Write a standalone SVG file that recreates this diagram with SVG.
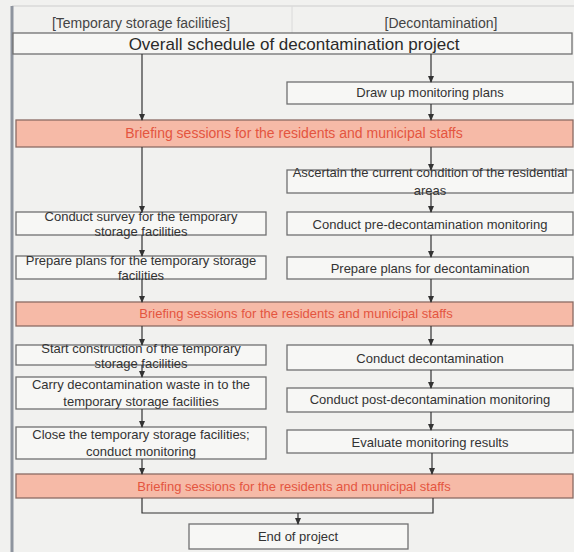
<svg xmlns="http://www.w3.org/2000/svg" width="574" height="552" viewBox="0 0 574 552">
  <defs>
    <marker id="arrow" markerWidth="7" markerHeight="6" refX="6" refY="3" orient="auto" markerUnits="userSpaceOnUse">
      <path d="M0,0 L7,3 L0,6 Z" fill="#333"/>
    </marker>
  </defs>
  <style>
    text { font-family: "Liberation Sans", Arial, sans-serif; font-size: 13px; fill: #333; text-anchor: middle; }
    .box { fill: #f7f7f5; stroke: #707070; stroke-width: 1.3; }
    .brief { fill: #f6baa7; stroke: #8c6c64; stroke-width: 1.3; }
    .brief-text { fill: #e4553f; }
    .head { font-size: 14px; fill: #444; }
    .title { font-size: 17px; fill: #2a2a2a; }
    .conn { stroke: #333; stroke-width: 1.2; fill: none; }
  </style>

  <!-- page background and frame -->
  <rect x="0" y="0" width="574" height="552" fill="#f1f1ef"/>
  <line x1="12" y1="6" x2="574" y2="6" stroke="#cdcdcd" stroke-width="1"/>
  <line x1="292" y1="6" x2="292" y2="33" stroke="#dadada" stroke-width="1"/>
  <line x1="12" y1="6" x2="12" y2="552" stroke="#8e949e" stroke-width="3"/>

  <!-- column headings -->
  <text class="head" x="141" y="28">[Temporary storage facilities]</text>
  <text class="head" x="441" y="28">[Decontamination]</text>

  <g id="overall">
    <rect class="box" x="13" y="33" width="559" height="21"/>
    <text class="title" x="294" y="50">Overall schedule of decontamination project</text>
  </g>

  <g id="draw-up">
    <rect class="box" x="287" y="82" width="286" height="22"/>
    <text x="430" y="97">Draw up monitoring plans</text>
  </g>

  <g id="briefing-1">
    <rect class="brief" x="16" y="120" width="557" height="27"/>
    <text class="brief-text" x="294" y="138" style="font-size:14px">Briefing sessions for the residents and municipal staffs</text>
  </g>

  <g id="ascertain">
    <rect class="box" x="287" y="170" width="286" height="23"/>
    <text x="430" y="177">Ascertain the current condition of the residential</text>
    <text x="430" y="195">areas</text>
  </g>

  <g id="survey">
    <rect class="box" x="16" y="212" width="250" height="23"/>
    <text x="141" y="221">Conduct survey for the temporary</text>
    <text x="141" y="236">storage facilities</text>
  </g>

  <g id="pre-monitoring">
    <rect class="box" x="287" y="212" width="286" height="23"/>
    <text x="430" y="229">Conduct pre-decontamination monitoring</text>
  </g>

  <g id="plans-storage">
    <rect class="box" x="16" y="256" width="250" height="23"/>
    <text x="141" y="265">Prepare plans for the temporary storage</text>
    <text x="141" y="280">facilities</text>
  </g>

  <g id="plans-decon">
    <rect class="box" x="287" y="257" width="286" height="22"/>
    <text x="430" y="273">Prepare plans for decontamination</text>
  </g>

  <g id="briefing-2">
    <rect class="brief" x="16" y="302" width="557" height="24"/>
    <text class="brief-text" x="296" y="318">Briefing sessions for the residents and municipal staffs</text>
  </g>

  <g id="construction">
    <rect class="box" x="16" y="345" width="250" height="20"/>
    <text x="141" y="353">Start construction of the temporary</text>
    <text x="141" y="368">storage facilities</text>
  </g>

  <g id="decontamination">
    <rect class="box" x="287" y="345" width="286" height="25"/>
    <text x="430" y="363">Conduct decontamination</text>
  </g>

  <g id="carry-waste">
    <rect class="box" x="16" y="377" width="250" height="32"/>
    <text x="141" y="389">Carry decontamination waste in to the</text>
    <text x="141" y="406">temporary storage facilities</text>
  </g>

  <g id="post-monitoring">
    <rect class="box" x="287" y="388" width="286" height="24"/>
    <text x="430" y="404">Conduct post-decontamination monitoring</text>
  </g>

  <g id="close-storage">
    <rect class="box" x="16" y="427" width="250" height="32"/>
    <text x="141" y="439">Close the temporary storage facilities;</text>
    <text x="141" y="456">conduct monitoring</text>
  </g>

  <g id="evaluate">
    <rect class="box" x="287" y="430" width="286" height="23"/>
    <text x="430" y="447">Evaluate monitoring results</text>
  </g>

  <g id="briefing-3">
    <rect class="brief" x="16" y="474" width="557" height="24"/>
    <text class="brief-text" x="294" y="491">Briefing sessions for the residents and municipal staffs</text>
  </g>

  <g id="end">
    <rect class="box" x="189" y="524" width="219" height="25"/>
    <text x="298" y="541">End of project</text>
  </g>

  <g id="connectors">
    <line class="conn" x1="142" y1="54" x2="142" y2="120" marker-end="url(#arrow)"/>
    <line class="conn" x1="431" y1="54" x2="431" y2="82" marker-end="url(#arrow)"/>
    <line class="conn" x1="431" y1="104" x2="431" y2="120" marker-end="url(#arrow)"/>
    <line class="conn" x1="431" y1="147" x2="431" y2="170" marker-end="url(#arrow)"/>
    <line class="conn" x1="142" y1="147" x2="142" y2="212" marker-end="url(#arrow)"/>
    <line class="conn" x1="431" y1="193" x2="431" y2="212" marker-end="url(#arrow)"/>
    <line class="conn" x1="142" y1="235" x2="142" y2="256" marker-end="url(#arrow)"/>
    <line class="conn" x1="431" y1="235" x2="431" y2="257" marker-end="url(#arrow)"/>
    <line class="conn" x1="142" y1="279" x2="142" y2="302" marker-end="url(#arrow)"/>
    <line class="conn" x1="431" y1="279" x2="431" y2="302" marker-end="url(#arrow)"/>
    <line class="conn" x1="142" y1="326" x2="142" y2="345" marker-end="url(#arrow)"/>
    <line class="conn" x1="431" y1="326" x2="431" y2="345" marker-end="url(#arrow)"/>
    <line class="conn" x1="142" y1="365" x2="142" y2="377" marker-end="url(#arrow)"/>
    <line class="conn" x1="431" y1="370" x2="431" y2="388" marker-end="url(#arrow)"/>
    <line class="conn" x1="142" y1="409" x2="142" y2="427" marker-end="url(#arrow)"/>
    <line class="conn" x1="431" y1="412" x2="431" y2="430" marker-end="url(#arrow)"/>
    <line class="conn" x1="142" y1="459" x2="142" y2="474" marker-end="url(#arrow)"/>
    <line class="conn" x1="432" y1="453" x2="432" y2="474" marker-end="url(#arrow)"/>
    <polyline class="conn" points="142,498 142,513 433,513 433,498"/>
    <line class="conn" x1="298" y1="513" x2="298" y2="524" marker-end="url(#arrow)"/>
  </g>
</svg>
